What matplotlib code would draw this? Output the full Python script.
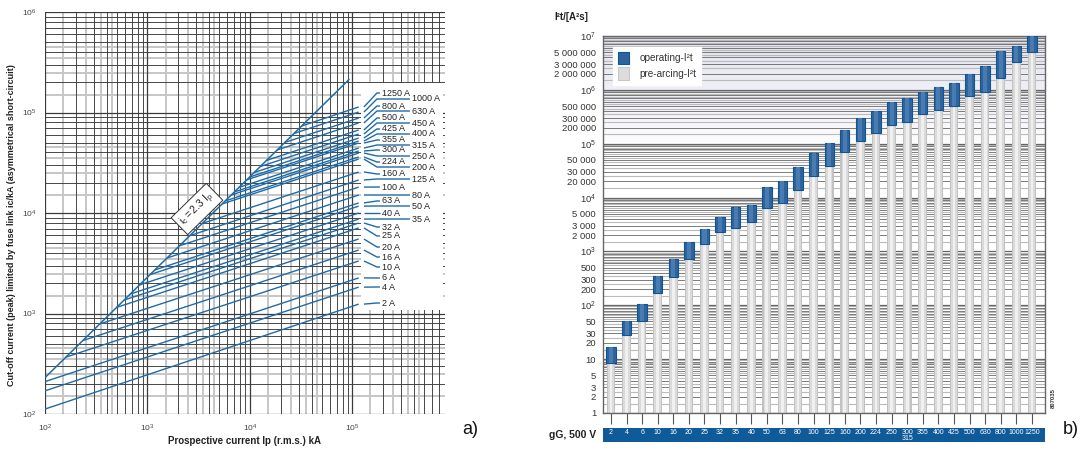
import numpy as np
import matplotlib
matplotlib.use("Agg")
import matplotlib.pyplot as plt
from matplotlib.patches import Rectangle, Patch
from matplotlib.ticker import FixedLocator, NullLocator
import matplotlib.transforms as mtrans
from matplotlib.colors import LinearSegmentedColormap

plt.rcParams['font.family'] = ['Liberation Sans', 'DejaVu Sans']
plt.rcParams['mathtext.fontset'] = 'custom'
plt.rcParams['mathtext.rm'] = 'Liberation Sans'
plt.rcParams['mathtext.it'] = 'Liberation Sans:italic'
plt.rcParams['mathtext.bf'] = 'Liberation Sans:bold'

W, H = 1084, 454

# ---------------- data: chart a) cut-off current ----------------
fuse_a = ['2 A', '4 A', '6 A', '10 A', '16 A', '20 A', '25 A', '32 A', '35 A', '40 A',
          '50 A', '63 A', '80 A', '100 A', '125 A', '160 A', '200 A', '224 A', '250 A',
          '300 A', '315 A', '355 A', '400 A', '425 A', '450 A', '500 A', '630 A', '800 A',
          '1000 A', '1250 A']
ip_start = [100, 100, 100, 160, 234, 342, 500, 592, 679, 836, 1060, 1180, 1550, 2050,
            2590, 3420, 5340, 5720, 6570, 7040, 7810, 9290, 9900, 11000, 12600, 14500,
            18400, 21900, 26900, 31900]
ic_start = [112, 170, 210, 368, 538, 787, 1150, 1362, 1562, 1923, 2438, 2714, 3565, 4715,
            5957, 7866, 12282, 13156, 15111, 16192, 17963, 21367, 22770, 25300, 28980,
            33350, 42320, 50370, 61870, 73370]
ic_end = [1240, 1830, 2260, 3330, 4280, 5510, 7100, 7950, 8700, 10000, 11700, 12600, 15100,
          18100, 21300, 25600, 34400, 36100, 39500, 41400, 44300, 49700, 52000, 55700,
          61100, 67000, 78700, 88100, 101000, 113500]
ip_end = 1.15e5
env_ip = [100, 93500]
env_ic = [230, 215000]
# label layout (column 0 = left, 1 = right) and pixel rows
label_col = [0, 0, 0, 0, 0, 0, 0, 0, 1, 0, 1, 0, 1, 0, 1, 0, 1, 0, 1, 0, 1, 0, 1, 0, 1, 0,
             1, 0, 1, 0]
label_py = [303, 287, 278, 267, 257, 247, 236, 227, 219, 213, 206, 201, 195, 187, 179, 174,
            167, 162, 156, 150, 145, 140, 134, 129, 123, 118, 111, 106, 99, 93]

# ---------------- data: chart b) I2t values ----------------
cat_b = ['2', '4', '6', '10', '16', '20', '25', '32', '35', '40', '50', '63', '80', '100',
         '125', '160', '200', '224', '250', '300\n315', '355', '400', '425', '500', '630',
         '800', '1000', '1250']
pre_b = [8.5, 28, 52, 172, 340, 710, 1400, 2250, 2670, 3450, 6300, 7800, 13600, 24800,
         38000, 70000, 112000, 157000, 221000, 251000, 355000, 420000, 500000, 760000,
         910000, 1660000, 3300000, 5000000]
op_b = [17, 52, 107, 355, 710, 1520, 2560, 4270, 6560, 7160, 15500, 20000, 36600, 66500,
        102000, 178000, 299000, 403000, 590000, 705000, 910000, 1130000, 1340000, 1960000,
        2770000, 5300000, 6600000, 10000000]
ytick_vals_b = [1, 2, 3, 5, 10, 20, 30, 50, 1e2, 200, 300, 500, 1e3, 2e3, 3e3, 5e3, 1e4,
                2e4, 3e4, 5e4, 1e5, 2e5, 3e5, 5e5, 1e6, 2e6, 3e6, 5e6, 1e7]
ytick_labs_b = ['1', '2', '3', '5', '10', '20', '30', '50', r'$10^{2}$', '200', '300', '500',
                r'$10^{3}$', '2 000', '3 000', '5 000', r'$10^{4}$', '20 000', '30 000',
                '50 000', r'$10^{5}$', '200 000', '300 000', '500 000', r'$10^{6}$',
                '2 000 000', '3 000 000', '5 000 000', r'$10^{7}$']

BLUE_LINE = '#1f6ba6'
DARK = '#3a3a3a'
LIGHT = '#c6c6c6'

fig = plt.figure(figsize=(W / 100, H / 100), dpi=100)
fig.patch.set_facecolor('white')


def fx(px):
    return px / W


def fy(py):
    return 1 - py / H


# ================= chart a =================
axa = fig.add_axes([fx(45), fy(414), 400 / W, 402 / H])
axa.set_xscale('log')
axa.set_yscale('log')
axa.set_xlim(100, 8e5)
axa.set_ylim(100, 1e6)


def ax_x(px):
    return 10 ** (2 + (px - 45) / 102.5)


def ax_y(py):
    return 10 ** (2 + (414 - py) / 100.5)


# grid
for k in range(2, 6):
    for m in [1.5, 2.5, 3.5, 4.5]:
        v = m * 10 ** k
        if v < 8e5:
            axa.axvline(v, color=LIGHT, lw=1.4, zorder=0.8)
        axa.axhline(v, color=LIGHT, lw=1.4, zorder=0.8)
    for m in range(1, 10):
        v = m * 10 ** k
        lw = 0.9 if m == 1 else 0.65
        if v <= 8e5:
            axa.axvline(v, color=DARK, lw=lw, zorder=1)
        axa.axhline(v, color=DARK, lw=lw, zorder=1)
axa.axhline(1e6, color=DARK, lw=0.9, zorder=1)

# white label box
x0, x1 = ax_x(361), ax_x(443)
y0, y1 = ax_y(310), ax_y(83)
axa.add_patch(Rectangle((x0, y0), x1 - x0, y1 - y0, facecolor='white', edgecolor='none',
                        zorder=2))

# envelope and fuse lines
axa.plot(env_ip, env_ic, color=BLUE_LINE, lw=1.1, zorder=3, solid_capstyle='butt')
for i in range(len(fuse_a)):
    axa.plot([ip_start[i], ip_end], [ic_start[i], ic_end[i]], color=BLUE_LINE, lw=1.0,
             zorder=3, solid_capstyle='butt')
    ly = ax_y(label_py[i])
    if label_col[i] == 0:
        xs = [ax_x(364), ax_x(377), ax_x(380)]
        tx = ax_x(382)
    else:
        xs = [ax_x(364), ax_x(377), ax_x(410)]
        tx = ax_x(412)
    axa.plot(xs, [ic_end[i], ly, ly], color=BLUE_LINE, lw=1.0, zorder=3,
             solid_capstyle='butt')
    axa.text(tx, ly, fuse_a[i], fontsize=6.5, color='#222222', ha='left', va='center',
             zorder=4)

# envelope label
axa.text(ax_x(197), ax_y(209), r'$\mathrm{i_c = 2.3\ I_p}$', fontsize=7.5, rotation=44.4,
         rotation_mode='anchor', ha='center', va='center', color='#222222', zorder=5,
         bbox=dict(boxstyle='square,pad=0.35', fc='white', ec='#333333', lw=0.7))

axa.set_xticks([1e2, 1e3, 1e4, 1e5])
axa.set_xticklabels([r'$10^{2}$', r'$10^{3}$', r'$10^{4}$', r'$10^{5}$'])
axa.set_yticks([1e2, 1e3, 1e4, 1e5, 1e6])
axa.set_yticklabels([r'$10^{2}$', r'$10^{3}$', r'$10^{4}$', r'$10^{5}$', r'$10^{6}$'])
axa.xaxis.set_minor_locator(NullLocator())
axa.yaxis.set_minor_locator(NullLocator())
axa.tick_params(length=0, labelsize=6, labelcolor='#444444', pad=6)
for s in axa.spines.values():
    s.set_visible(False)

fig.text(fx(245), fy(441), 'Prospective current Ip (r.m.s.) kA', fontsize=7, weight='bold',
         ha='center', va='center', color='#222222')
fig.text(fx(12), fy(225),
         'Cut-off current (peak) limited by fuse link ic/kA (asymmetrical short-circuit)',
         fontsize=6.5, weight='bold', rotation=90, ha='center', va='center',
         color='#222222')
fig.text(fx(470), fy(430), 'a)', fontsize=13, ha='center', va='center', color='#111111')

# ================= chart b =================
pos_b = [fx(603), fy(413), 442 / W, 377 / H]
bg = fig.add_axes(pos_b, zorder=0)
grad = np.linspace(1, 0, 256).reshape(-1, 1)
cmap = LinearSegmentedColormap.from_list('g', ['#ffffff', '#e2e2ef'])
bg.imshow(np.clip(grad * 3.2 - 2.2, 0, 1), aspect='auto', cmap=cmap, extent=[0, 1, 0, 1],
          vmin=0, vmax=1)
bg.axis('off')

axb = fig.add_axes(pos_b, zorder=1)
axb.patch.set_alpha(0)
axb.set_yscale('log')
axb.set_xlim(-0.51, 27.84)
axb.set_ylim(1, 1e7)

for k in range(0, 7):
    for m in np.arange(1.5, 10, 1.0):
        axb.axhline(m * 10 ** k, color='#bababa', lw=0.8, zorder=0.5)
    for m in range(1, 10):
        axb.axhline(m * 10 ** k, color='#666666', lw=0.6 if m > 1 else 0.9, zorder=0.6)

xb = np.arange(len(cat_b))
pre_arr = np.array(pre_b)
op_arr = np.array(op_b)
axb.bar(xb, pre_arr - 1, bottom=1, width=0.56, color='#c2c2c2', zorder=2)
axb.bar(xb, pre_arr - 1, bottom=1, width=0.42, color='#dadada', zorder=2.1)
axb.bar(xb, pre_arr - 1, bottom=1, width=0.18, color='#f0f0f0', zorder=2.2)
axb.bar(xb, op_arr - pre_arr, bottom=pre_arr, width=0.6, color='#2f639c',
        edgecolor='#0e5596', lw=0.8, zorder=3)
axb.bar(xb, op_arr - pre_arr, bottom=pre_arr, width=0.26, color='#4a7bb0', zorder=3.1)

axb.yaxis.set_major_locator(FixedLocator(ytick_vals_b))
axb.set_yticklabels(ytick_labs_b)
axb.yaxis.set_minor_locator(NullLocator())
axb.tick_params(axis='y', length=0, labelsize=6.8, labelcolor='#333333', pad=5)
axb.set_xticks(xb)
axb.set_xticklabels([''] * len(cat_b))
axb.tick_params(axis='x', length=8, width=0.8, color='#555555', direction='out', pad=0)
for s in axb.spines.values():
    s.set_color('#666666')
    s.set_linewidth(1.0)

leg = axb.legend(handles=[Patch(facecolor='#2f639c', edgecolor='#0e5596', lw=0.8),
                          Patch(facecolor='#dcdcdc', edgecolor='#c8c8c8', lw=0.8)],
                 labels=['operating-I²t', 'pre-arcing-I²t'], loc='upper left',
                 bbox_to_anchor=(0.012, 0.985), fontsize=7.2, frameon=True,
                 framealpha=1, edgecolor='white', facecolor='white', fancybox=False,
                 handlelength=1.1, handleheight=1.5, handletextpad=1.0,
                 labelspacing=0.35, borderpad=0.5)
for t in leg.get_texts():
    t.set_color('#333333')
leg.set_zorder(5)

# category band (drawn beneath chart b's axes so labels stay on top)
band = Rectangle((fx(603), fy(442)), 442 / W, 14 / H, transform=fig.transFigure,
                 facecolor='#0f5a99', edgecolor='none', zorder=0.5)
fig.patches.append(band)
bt = mtrans.blended_transform_factory(axb.transData, fig.transFigure)
for i, lab in enumerate(cat_b):
    axb.text(i, fy(428.5), lab, transform=bt, fontsize=5, color='white', ha='center',
             va='top', linespacing=0.95, clip_on=False, zorder=6)

fig.text(fx(596), fy(435), 'gG, 500 V', fontsize=7.5, weight='bold', ha='right',
         va='center', color='#222222')
fig.text(fx(554), fy(17), 'I²t/[A²s]', fontsize=7, weight='bold', ha='left', va='center',
         color='#222222')
fig.text(fx(1053), fy(398), '807035', fontsize=4.2, weight='bold', rotation=90,
         ha='center', va='center', color='#333333')
fig.text(fx(1071), fy(430), 'b)', fontsize=13, ha='center', va='center', color='#111111')

fig.savefig('out.png', dpi=100)
